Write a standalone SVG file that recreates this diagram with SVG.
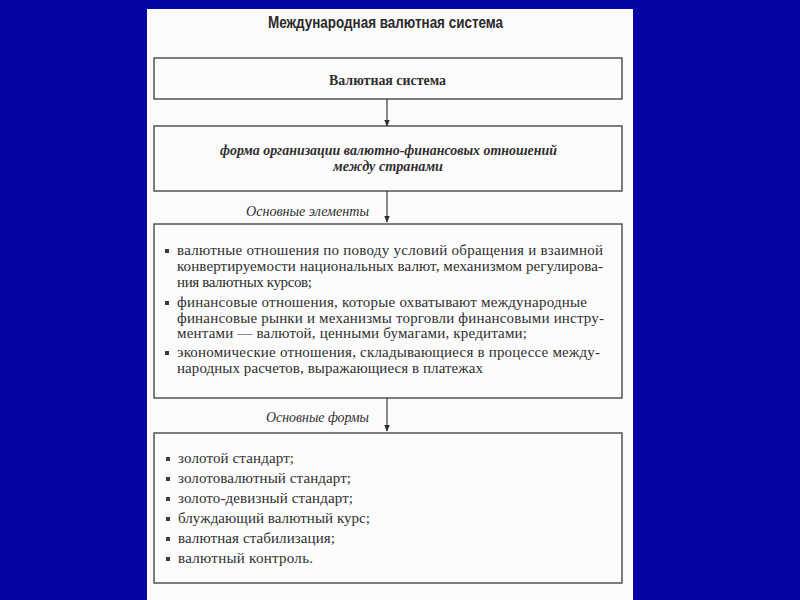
<svg xmlns="http://www.w3.org/2000/svg" width="800" height="600" viewBox="0 0 800 600">
<defs>
<style>
.box{fill:#fcfcfc;stroke:#3a3a3a;stroke-width:1.3}
.conn{stroke:#3a3a3a;stroke-width:1.2;fill:none}
.t{font-family:"Liberation Serif","Times New Roman",serif;font-size:15px;fill:#2e2e2e}
.s{font-size:14px}
.hd{font-family:"Liberation Sans",Arial,sans-serif;font-weight:bold;font-size:16px;fill:#2a2a2a}
.b{font-weight:bold}
.i{font-style:italic}
.bul{fill:#3a3a3a}
</style>
<marker id="arr" viewBox="0 0 10 10" refX="9" refY="5" markerWidth="7" markerHeight="7" orient="auto" markerUnits="userSpaceOnUse">
<path d="M0,1 L10,5 L0,9 z" fill="#2e2e2e"/>
</marker>
</defs>
<rect width="800" height="600" fill="#0505a3"/>
<rect x="147" y="9" width="486" height="591" fill="#fbfbfb"/>
<text class="hd" x="385.5" y="28" text-anchor="middle" textLength="235" lengthAdjust="spacingAndGlyphs">Международная валютная система</text>

<g id="connectors">
<line class="conn" x1="387" y1="99" x2="387" y2="126" marker-end="url(#arr)"/>
<line class="conn" x1="387" y1="191" x2="387" y2="222" marker-end="url(#arr)"/>
<line class="conn" x1="387" y1="398" x2="387" y2="431" marker-end="url(#arr)"/>
<text class="t s i" x="246" y="216" textLength="123" lengthAdjust="spacingAndGlyphs">Основные элементы</text>
<text class="t s i" x="266" y="422" textLength="103" lengthAdjust="spacingAndGlyphs">Основные формы</text>
</g>

<g id="node-system">
<rect class="box" x="154" y="58" width="468" height="41"/>
<text class="t s b" x="387.5" y="85" text-anchor="middle" textLength="117" lengthAdjust="spacingAndGlyphs">Валютная система</text>
</g>

<g id="node-form">
<rect class="box" x="154" y="126" width="468" height="65"/>
<text class="t s b i" x="388.5" y="155" text-anchor="middle" textLength="337" lengthAdjust="spacingAndGlyphs">форма организации валютно-финансовых отношений</text>
<text class="t s b i" x="388" y="171" text-anchor="middle" textLength="110" lengthAdjust="spacingAndGlyphs">между странами</text>
</g>

<g id="node-elements">
<rect class="box" x="154" y="224" width="468" height="174"/>
<rect class="bul" x="165" y="249" width="4" height="4"/>
<rect class="bul" x="165" y="301" width="4" height="4"/>
<rect class="bul" x="165" y="351" width="4" height="4"/>
<text class="t" x="177" y="255" textLength="426" lengthAdjust="spacing">валютные отношения по поводу условий обращения и взаимной</text>
<text class="t" x="177" y="271" textLength="426" lengthAdjust="spacing">конвертируемости национальных валют, механизмом регулирова-</text>
<text class="t" x="177" y="287" textLength="135" lengthAdjust="spacing">ния валютных курсов;</text>
<text class="t" x="177" y="307" textLength="410" lengthAdjust="spacing">финансовые отношения, которые охватывают международные</text>
<text class="t" x="177" y="323" textLength="427" lengthAdjust="spacing">финансовые рынки и механизмы торговли финансовыми инстру-</text>
<text class="t" x="177" y="338" textLength="350" lengthAdjust="spacing">ментами — валютой, ценными бумагами, кредитами;</text>
<text class="t" x="177" y="357" textLength="423" lengthAdjust="spacing">экономические отношения, складывающиеся в процессе между-</text>
<text class="t" x="177" y="373" textLength="306" lengthAdjust="spacing">народных расчетов, выражающиеся в платежах</text>
</g>

<g id="node-forms">
<rect class="box" x="154" y="433" width="468" height="150"/>
<rect class="bul" x="166" y="457" width="4" height="4"/>
<rect class="bul" x="166" y="477" width="4" height="4"/>
<rect class="bul" x="166" y="497" width="4" height="4"/>
<rect class="bul" x="166" y="517" width="4" height="4"/>
<rect class="bul" x="166" y="537" width="4" height="4"/>
<rect class="bul" x="166" y="557" width="4" height="4"/>
<text class="t" x="178" y="463" textLength="116" lengthAdjust="spacing">золотой стандарт;</text>
<text class="t" x="178" y="483" textLength="173" lengthAdjust="spacing">золотовалютный стандарт;</text>
<text class="t" x="178" y="503" textLength="175" lengthAdjust="spacing">золото-девизный стандарт;</text>
<text class="t" x="178" y="523" textLength="192" lengthAdjust="spacing">блуждающий валютный курс;</text>
<text class="t" x="178" y="543" textLength="157" lengthAdjust="spacing">валютная стабилизация;</text>
<text class="t" x="178" y="563" textLength="135" lengthAdjust="spacing">валютный контроль.</text>
</g>
</svg>
